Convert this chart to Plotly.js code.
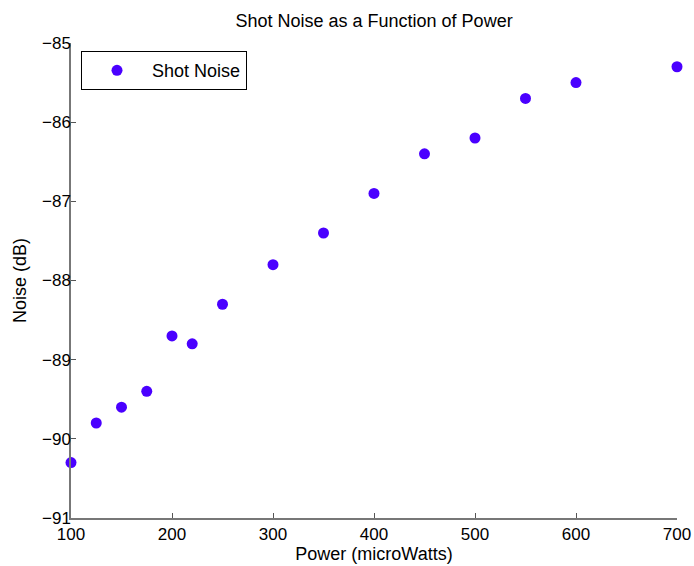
<!DOCTYPE html>
<html>
<head>
<meta charset="utf-8">
<script src="https://cdn.plot.ly/plotly-3.0.1.min.js"></script>
<style>html,body{margin:0;padding:0;background:#fff;}#chart{width:694px;height:566px;}</style>
</head>
<body>
<div id="chart"></div>
<script>
const power = [100, 125, 150, 175, 200, 220, 250, 300, 350, 400, 450, 500, 550, 600, 700];
const noise = [-90.3, -89.8, -89.6, -89.4, -88.7, -88.8, -88.3, -87.8, -87.4, -86.9, -86.4, -86.2, -85.7, -85.5, -85.3];
const seriesName = "Shot Noise";
const xTicks = [100, 200, 300, 400, 500, 600, 700];
const yTicks = [-91, -90, -89, -88, -87, -86, -85];

const font = "Liberation Sans, Arial, Helvetica, sans-serif";
const trace = {
  x: power, y: noise, name: seriesName, type: "scatter", mode: "markers",
  marker: {color: "#4a00ff", size: 11},
  cliponaxis: false
};
const layout = {
  width: 694, height: 566,
  margin: {l: 71, r: 17, t: 43, b: 48},
  paper_bgcolor: "#fff", plot_bgcolor: "#fff",
  font: {family: font, size: 17, color: "#000"},
  title: {text: "Shot Noise as a Function of Power", font: {size: 18, family: font}, x: 0.539, xanchor: "center", y: 0.964, yanchor: "middle"},
  xaxis: {
    range: [100, 700], tickvals: xTicks, ticks: "inside", ticklen: 5, tickcolor: "#555",
    showline: true, linecolor: "#777", linewidth: 1.5, showgrid: false, zeroline: false,
    title: {text: "Power (microWatts)", font: {size: 18}, standoff: 1},
    tickfont: {size: 17}, ticklabelstandoff: 0
  },
  yaxis: {
    range: [-91, -85], tickvals: yTicks, ticks: "inside", ticklen: 5, tickcolor: "#555",
    showline: true, linecolor: "#777", linewidth: 1.5, showgrid: false, zeroline: false,
    title: {text: "Noise (dB)", font: {size: 18}, standoff: 11},
    tickfont: {size: 17}, ticklabelstandoff: -5
  },
  showlegend: true,
  legend: {
    x: 0.0165, y: 0.983, xanchor: "left", yanchor: "top",
    bordercolor: "#000", borderwidth: 1, bgcolor: "#fff",
    font: {size: 18}, itemwidth: 60
  }
};
Plotly.newPlot("chart", [trace], layout, {displayModeBar: false});
</script>
</body>
</html>
